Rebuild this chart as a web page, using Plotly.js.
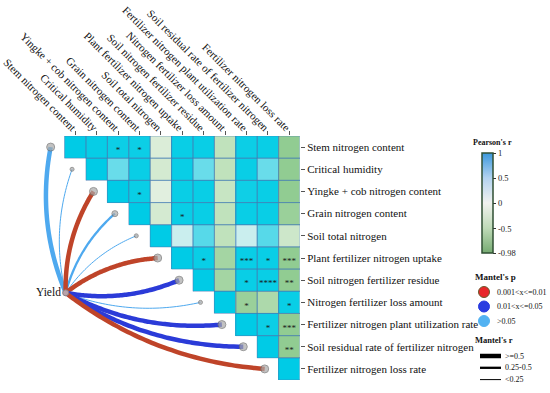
<!DOCTYPE html>
<html>
<head>
<meta charset="utf-8">
<script src="https://cdn.plot.ly/plotly-3.0.1.min.js"></script>
<style>html,body{margin:0;padding:0;background:#fff;}#chart{width:550px;height:393px;}</style>
</head>
<body>
<div id="chart"></div>
<script>
// ---------------- DATA ----------------
const labels = [
  'Stem nitrogen content',
  'Critical humidity',
  'Yingke + cob nitrogen content',
  'Grain nitrogen content',
  'Soil total nitrogen',
  'Plant fertilizer nitrogen uptake',
  'Soil nitrogen fertilizer residue',
  'Nitrogen fertilizer loss amount',
  'Fertilizer nitrogen plant utilization rate',
  'Soil residual rate of fertilizer nitrogen',
  'Fertilizer nitrogen loss rate'
];

// Pearson's r, upper triangle, each row starts at the diagonal
const pearsonRows = [
  [1, 0.9, 0.8, 0.8, -0.1, 0.85, 0.85, -0.3, 0.8, 0.85, -0.55],
  [1, 0.45, 0.85, -0.15, 0.85, 0.45, -0.3, 0.85, 0.45, -0.55],
  [1, 0.85, -0.05, 0.85, 0.85, -0.25, 0.75, 0.85, -0.55],
  [1, -0.15, 0.85, 0.85, -0.3, 0.85, 0.85, -0.5],
  [1, 0.15, 0.5, -0.3, 0.15, 0.5, -0.2],
  [1, 0.85, -0.45, 0.85, 0.85, -0.55],
  [1, -0.45, 0.85, 0.85, -0.55],
  [1, -0.5, -0.4, 0.85],
  [1, 0.8, -0.55],
  [1, -0.55],
  [1]
];

// significance marks, same layout as pearsonRows
const starRows = [
  ['', '', '*', '*', '', '', '', '', '', '', ''],
  ['', '', '', '', '', '', '', '', '', ''],
  ['', '*', '', '', '', '', '', '', ''],
  ['', '', '*', '', '', '', '', ''],
  ['', '', '', '', '', '', ''],
  ['', '*', '', '***', '*', '***'],
  ['', '', '*', '****', '**'],
  ['', '*', '', '*'],
  ['', '*', '***'],
  ['', '**'],
  ['']
];

// Mantel test of Yield against each variable
const mantelP = ['>0.05', '>0.05', '0.001<x<=0.01', '>0.05', '>0.05', '0.001<x<=0.01',
                 '0.01<x<=0.05', '>0.05', '0.01<x<=0.05', '0.01<x<=0.05', '0.001<x<=0.01'];
const mantelR = ['>=0.5', '<0.25', '>=0.5', '0.25-0.5', '<0.25', '>=0.5',
                 '>=0.5', '<0.25', '>=0.5', '>=0.5', '>=0.5'];

const pCategories = ['0.001<x<=0.01', '0.01<x<=0.05', '>0.05'];
const rCategories = ['>=0.5', '0.25-0.5', '<0.25'];
const colorbarTicks = [1, 0.5, 0, -0.5, -0.98];

// ---------------- STYLE ----------------
const FONT = 'Liberation Serif, Times New Roman, serif';
const pColors = {'0.001<x<=0.01': '#bf4429', '0.01<x<=0.05': '#2b3bd8', '>0.05': '#4ea9ef'};
const pLegendColors = {'0.001<x<=0.01': '#e8272a', '0.01<x<=0.05': '#2a3ce0', '>0.05': '#52b2f2'};
const rWidths = {'>=0.5': 4.5, '0.25-0.5': 2.3, '<0.25': 1};
const rMarker = {'>=0.5': 8, '0.25-0.5': 6, '<0.25': 4};

const n = labels.length;
const idx = labels.map((_, i) => i);

// build z matrix
const z = [];
const starX = [], starY = [], starT = [];
for (let r = 0; r < n; r++) {
  const row = [];
  for (let c = 0; c < n; c++) {
    if (c >= r) {
      row.push(pearsonRows[r][c - r]);
      const s = starRows[r][c - r];
      if (s) { starX.push(c); starY.push(r); starT.push(s); }
    } else row.push(null);
  }
  z.push(row);
}

const traces = [];
traces.push({
  type: 'heatmap', x: idx, y: idx, z: z, zmin: -1, zmax: 1,
  colorscale: [[0, '#55ad55'], [0.22, '#8fcb90'], [0.35, '#c0e2bc'], [0.5, '#e8f2e6'],
               [0.62, '#b8ecf2'], [0.72, '#6cdcea'], [0.85, '#12d0e6'], [1, '#00cbe6']],
  showscale: false, hoverinfo: 'skip'
});

traces.push({
  type: 'scatter', mode: 'text', x: starX, y: starY.map(v => v + 0.18), text: starT,
  textfont: {family: FONT, size: 9, color: '#1a1a1a'}, hoverinfo: 'skip', showlegend: false
});

// Mantel link curves
const SX = 21.4, SY = 22.18;
const yieldPt = {x: -0.45, y: 6.57};
const k = 0.15;
const order = idx.slice().sort((a, b) => rWidths[mantelR[a]] - rWidths[mantelR[b]]);
const endX = [], endY = [], endS = [];
order.forEach(r => {
  const ex = r - 1.15, ey = r;
  const sx = yieldPt.x * SX, sy = yieldPt.y * SY;
  const tx = ex * SX, ty = ey * SY;
  const dx = tx - sx, dy = ty - sy;
  const L = Math.hypot(dx, dy);
  let nx, ny;
  if (r <= 5) { nx = dy / L; ny = -dx / L; } else { nx = -dy / L; ny = dx / L; }
  const cx = (sx + tx) / 2 + nx * k * L, cy = (sy + ty) / 2 + ny * k * L;
  const xs = [], ys = [];
  for (let i = 0; i <= 40; i++) {
    const t = i / 40, u = 1 - t;
    xs.push((u * u * sx + 2 * u * t * cx + t * t * tx) / SX);
    ys.push((u * u * sy + 2 * u * t * cy + t * t * ty) / SY);
  }
  traces.push({
    type: 'scatter', mode: 'lines', x: xs, y: ys, hoverinfo: 'skip', showlegend: false,
    line: {color: pColors[mantelP[r]], width: rWidths[mantelR[r]], shape: 'spline'}
  });
  endX.push(ex); endY.push(ey); endS.push(rMarker[mantelR[r]]);
});
traces.push({
  type: 'scatter', mode: 'markers', x: endX, y: endY, hoverinfo: 'skip', showlegend: false,
  marker: {size: endS, color: '#a9a9a9', line: {color: '#6f6f6f', width: 1}}
});
traces.push({
  type: 'scatter', mode: 'markers+text', x: [yieldPt.x], y: [yieldPt.y], text: ['Yield'],
  textposition: 'middle left', cliponaxis: false, hoverinfo: 'skip', showlegend: false,
  textfont: {family: FONT, size: 11.5, color: '#111'},
  marker: {size: 6, color: '#b9a3aa', line: {color: '#8a7f85', width: 1}}
});

// dummy trace carrying the Pearson's r colour bar
const PX = px => (px - 10) / 290;
const PY = py => (380 - py) / 244;
traces.push({
  type: 'scatter', mode: 'markers', x: [100, 100], y: [100, 100], hoverinfo: 'skip', showlegend: false,
  marker: {
    color: [-0.98, 1], cmin: -0.98, cmax: 1, size: 1,
    colorscale: [[0, '#76ab72'], [0.25, '#bfdab8'], [0.5, '#f1f2ef'], [0.75, '#b3d3f0'], [1, '#3b98dc']],
    showscale: true,
    colorbar: {
      x: PX(482), xanchor: 'left', xpad: 0, y: PY(203), yanchor: 'middle', ypad: 0,
      lenmode: 'pixels', len: 100, thickness: 11,
      outlinecolor: '#2f4f33', outlinewidth: 1.5,
      tickvals: colorbarTicks, ticktext: colorbarTicks.map(String),
      ticks: 'outside', ticklen: 3, tickcolor: '#333',
      tickfont: {family: FONT, size: 8.5, color: '#222'},
      title: {text: ''}
    }
  }
});

// cell borders
const shapes = [];
for (let r = 0; r < n; r++) {
  for (let c = r; c < n; c++) {
    shapes.push({type: 'rect', xref: 'x', yref: 'y', x0: c - 0.5, x1: c + 0.5, y0: r - 0.5, y1: r + 0.5,
      line: {color: 'rgba(70,125,180,0.55)', width: 1}, layer: 'above'});
  }
}

// custom Mantel legends
const annotations = [];
annotations.push({xref: 'paper', yref: 'paper', x: PX(492), y: PY(142), text: "<b>Pearson's r</b>",
  showarrow: false, xanchor: 'center', yanchor: 'middle', font: {family: FONT, size: 8, color: '#111'}});
annotations.push({xref: 'paper', yref: 'paper', x: PX(473), y: PY(277), text: "<b>Mantel's p</b>",
  showarrow: false, xanchor: 'left', yanchor: 'middle', font: {family: FONT, size: 9, color: '#111'}});
pCategories.forEach((cat, i) => {
  const py = 292 + i * 14.5;
  shapes.push({type: 'circle', xref: 'paper', yref: 'paper', xsizemode: 'pixel', ysizemode: 'pixel',
    xanchor: PX(484), yanchor: PY(py), x0: -5.5, x1: 5.5, y0: -5.5, y1: 5.5,
    fillcolor: pLegendColors[cat], line: {color: i === 0 ? '#6b5a2c' : pLegendColors[cat], width: 1}});
  annotations.push({xref: 'paper', yref: 'paper', x: PX(495), y: PY(py), text: cat.replace(/</g, '&lt;'),
    showarrow: false, xanchor: 'left', yanchor: 'middle', font: {family: FONT, size: 8, color: '#111'}});
});
annotations.push({xref: 'paper', yref: 'paper', x: PX(473), y: PY(340), text: "<b>Mantel's r</b>",
  showarrow: false, xanchor: 'left', yanchor: 'middle', font: {family: FONT, size: 8.5, color: '#111'}});
rCategories.forEach((cat, i) => {
  const py = 356 + i * 11.8;
  shapes.push({type: 'line', xref: 'paper', yref: 'paper', x0: PX(480), x1: PX(501), y0: PY(py), y1: PY(py),
    line: {color: '#000', width: rWidths[cat]}});
  annotations.push({xref: 'paper', yref: 'paper', x: PX(503), y: PY(py), text: cat.replace(/</g, '&lt;'),
    showarrow: false, xanchor: 'left', yanchor: 'middle', font: {family: FONT, size: 8, color: '#111'}});
});

const layout = {
  width: 550, height: 393,
  margin: {l: 10, r: 250, t: 136, b: 13},
  paper_bgcolor: '#fff', plot_bgcolor: 'rgba(0,0,0,0)',
  showlegend: false,
  font: {family: FONT, color: '#111'},
  xaxis: {
    side: 'top', range: [-3.05, 10.5], tickvals: idx, ticktext: labels, tickangle: 45,
    ticks: 'outside', ticklen: 4, tickcolor: '#555', tickwidth: 1, ticklabelstandoff: -7,
    showgrid: false, zeroline: false, showline: false,
    tickfont: {family: FONT, size: 11, color: '#111'}
  },
  yaxis: {
    side: 'right', range: [10.5, -0.5], tickvals: idx, ticktext: labels,
    ticks: 'outside', ticklen: 4, tickcolor: '#555', tickwidth: 1,
    showgrid: false, zeroline: false, showline: false,
    tickfont: {family: FONT, size: 11, color: '#111'}
  },
  shapes: shapes,
  annotations: annotations
};

Plotly.newPlot('chart', traces, layout, {displayModeBar: false, staticPlot: true});
</script>
</body>
</html>
